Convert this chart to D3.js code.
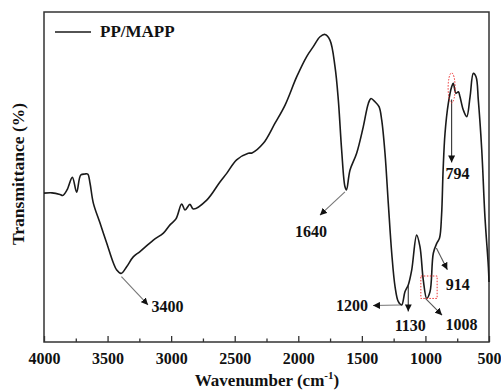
<!DOCTYPE html>
<html><head><meta charset="utf-8">
<script src="https://cdn.jsdelivr.net/npm/d3@7"></script>
<style>body{margin:0;background:#fff}svg{display:block}text{font-family:"Liberation Serif","Times New Roman",serif;font-weight:bold;fill:#111}</style>
</head><body>
<div id="chart"></div>
<script>
// Spectrum (wavenumber cm-1, transmittance arbitrary %)
const wavenumbers = [4000,3937,3874,3853,3819,3777,3743,3711,3678,3656,3638,3612,3560,3507,3455,3428,3394,3350,3298,3245,3140,3061,3009,2962,2917,2891,2852,2826,2720,2616,2563,2485,2393,2364,2275,2183,2104,2012,1934,1882,1829,1790,1751,1711,1685,1659,1633,1621,1593,1541,1489,1449,1428,1397,1365,1344,1318,1292,1265,1239,1213,1187,1161,1135,1108,1069,1043,1017,990,964,938,911,889,873,861,846,820,793,781,760,741,728,702,675,649,623,602,584,557,532,505,500];
const transmittance = [45.1,45.2,44.7,44.4,46.1,49.9,45.4,50.6,50.9,50.9,48.1,42.1,36.1,30.0,24.0,21.8,20.8,22.8,25.8,27.4,30.9,33.0,35.5,37.3,41.8,40.0,41.7,40.3,43.0,48.5,51.1,55.2,57.2,57.3,60.2,66.3,71.8,80.4,86.5,89.5,92.5,93.2,91.5,83.4,73.3,58.2,47.1,46.1,52.1,57.2,65.2,72.3,73.8,72.8,71.3,67.3,57.2,42.0,26.9,16.8,12.2,11.2,15.2,17.3,21.8,32.4,28.9,18.8,13.2,15.2,26.9,29.9,31.5,38.5,52.0,63.2,72.3,77.4,78.4,75.4,75.8,74.3,70.3,68.3,74.3,81.4,80.4,73.3,58.2,38.0,22.8,18.2];
const seriesName = "PP/MAPP";
const xTicks = [4000,3500,3000,2500,2000,1500,1000,500];
const xMinorTicks = [3750,3250,2750,2250,1750,1250,750];
// annotation anchors (wavenumber, transmittance)
const annLabels = ["3400","1640","1200","1130","1008","914","794"];
const annWave = [3391,1633,1200,1135,1000,914,794];
const annTrans = [19.8,45.5,11.2,17.0,13.2,28.5,73.5];

const W = 501, H = 390;
const m = {l:44, r:12, t:12, b:48};
const svg = d3.select("#chart").append("svg").attr("width",W).attr("height",H);
const x = d3.scaleLinear().domain([4000,500]).range([m.l, W-m.r]);
const y = d3.scaleLinear().domain([0,100]).range([H-m.b, m.t]);

svg.append("defs").append("marker").attr("id","ah").attr("viewBox","0 0 10 10")
  .attr("refX",10).attr("refY",5).attr("markerWidth",7).attr("markerHeight",7)
  .attr("markerUnits","userSpaceOnUse").attr("orient","auto")
  .append("path").attr("d","M0,0L10,5L0,10z").attr("fill","#111");

// x axis
const xa = svg.append("g").attr("transform",`translate(0,${H-m.b})`)
  .call(d3.axisBottom(x).tickValues(xTicks).tickSize(-6).tickPadding(11).tickFormat(d3.format("d")));
xa.select(".domain").remove();
xa.selectAll("line").attr("stroke","#333").attr("stroke-width",1.3);
xa.selectAll("text").style("font-size","16px").attr("fill","#111");
const xm = svg.append("g").attr("transform",`translate(0,${H-m.b})`)
  .call(d3.axisBottom(x).tickValues(xMinorTicks).tickSize(-3.5).tickFormat(""));
xm.select(".domain").remove();
xm.selectAll("line").attr("stroke","#333").attr("stroke-width",1.3);

// frame
svg.append("rect").attr("x",m.l).attr("y",m.t).attr("width",W-m.r-m.l).attr("height",H-m.b-m.t)
  .attr("fill","none").attr("stroke","#333").attr("stroke-width",1.5);

// spectrum
const pts = wavenumbers.map((w,i)=>[w,transmittance[i]]);
svg.append("path").datum(pts)
  .attr("d",d3.line().x(d=>x(d[0])).y(d=>y(d[1])).curve(d3.curveCatmullRom.alpha(0.5)))
  .attr("fill","none").attr("stroke","#1a1a1a").attr("stroke-width",1.6);

// legend
svg.append("line").attr("x1",55).attr("x2",91).attr("y1",32).attr("y2",32).attr("stroke","#1a1a1a").attr("stroke-width",1.6);
svg.append("text").attr("x",100).attr("y",37).style("font-size","17px").text(seriesName);

// annotation layout: arrow vector and label offsets (px)
const annLayout = [
  {vx:26.6, vy:28.3, tx:3.4, ty:7.5, anchor:"start", color:"#777"},
  {vx:-25, vy:23.3, tx:-9, ty:21.5, anchor:"middle", color:"#777"},
  {vx:-27, vy:0.5, tx:-5, ty:5.5, anchor:"end", color:"#777"},
  {vx:0, vy:25.5, tx:2, ty:19.5, anchor:"middle", color:"#333"},
  {vx:16.6, vy:16.7, tx:3.4, ty:15, anchor:"start", color:"#555"},
  {vx:11, vy:21.7, tx:-1.6, ty:20, anchor:"start", color:"#555"},
  {vx:0, vy:63, tx:6, ty:16.7, anchor:"middle", color:"#333"}
];
annLabels.forEach((lab,i)=>{
  const L = annLayout[i];
  const x0 = x(annWave[i]), y0 = y(annTrans[i]);
  const x1 = x0+L.vx, y1 = y0+L.vy;
  svg.append("line").attr("x1",x0).attr("y1",y0).attr("x2",x1).attr("y2",y1)
    .attr("stroke",L.color).attr("stroke-width",1.1).attr("marker-end","url(#ah)");
  svg.append("text").attr("x",x1+L.tx).attr("y",y1+L.ty).attr("text-anchor",L.anchor)
    .style("font-size","16px").text(lab);
});
// red dotted highlights
svg.append("rect").attr("x",x(1036)).attr("y",y(20)).attr("width",x(908)-x(1036)).attr("height",y(13.2)-y(20))
  .attr("fill","none").attr("stroke","#e33").attr("stroke-width",1).attr("stroke-dasharray","1.5,1.5");
svg.append("ellipse").attr("cx",x(794)).attr("cy",y(77)).attr("rx",3.5).attr("ry",15)
  .attr("fill","none").attr("stroke","#e33").attr("stroke-width",1).attr("stroke-dasharray","1.5,1.5");

// axis titles
const xt = svg.append("text").attr("x",267).attr("y",386).attr("text-anchor","middle").style("font-size","17px");
xt.append("tspan").text("Wavenumber (cm");
xt.append("tspan").attr("dy",-7).style("font-size","11px").text("-1");
xt.append("tspan").attr("dy",7).text(")");
svg.append("text").attr("transform","translate(24,174) rotate(-90)").attr("text-anchor","middle")
  .style("font-size","17.5px").text("Transmittance (%)");
</script>
</body></html>
